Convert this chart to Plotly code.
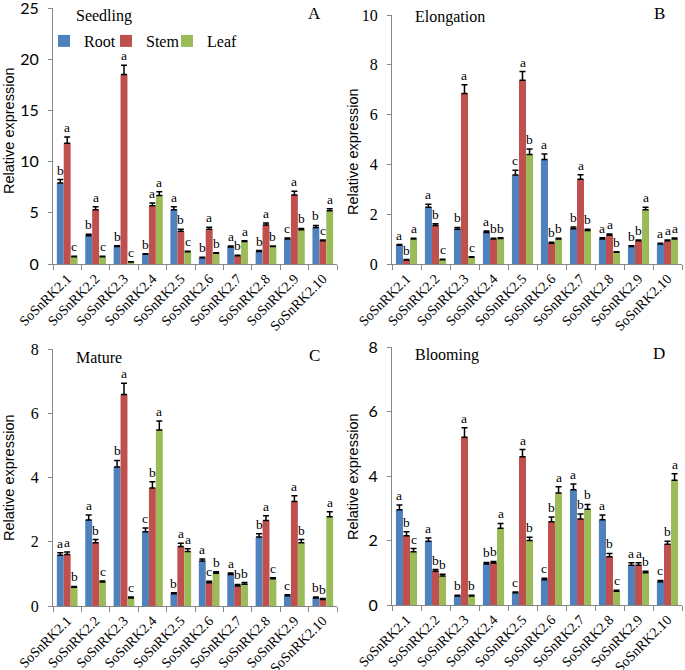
import plotly.graph_objects as go

genes = ["SoSnRK2.1", "SoSnRK2.2", "SoSnRK2.3", "SoSnRK2.4", "SoSnRK2.5",
         "SoSnRK2.6", "SoSnRK2.7", "SoSnRK2.8", "SoSnRK2.9", "SoSnRK2.10"]
tissues = ["Root", "Stem", "Leaf"]
stages = ["Seedling", "Elongation", "Mature", "Blooming"]
panel_letters = ["A", "B", "C", "D"]

# ---- Seedling (A)
seedling_root = [7.9, 2.75, 1.7, 0.95, 5.3, 0.6, 1.67, 1.23, 2.43, 3.57]
seedling_stem = [11.8, 5.3, 18.5, 5.7, 3.2, 3.4, 0.8, 3.8, 6.75, 2.27]
seedling_leaf = [0.7, 0.7, 0.2, 6.7, 1.2, 1.05, 2.2, 1.7, 3.35, 5.2]
seedling_root_err = [0.35, 0.15, 0.08, 0.06, 0.3, 0.05, 0.08, 0.08, 0.1, 0.2]
seedling_stem_err = [0.6, 0.3, 0.9, 0.25, 0.2, 0.2, 0.05, 0.2, 0.35, 0.08]
seedling_leaf_err = [0.05, 0.05, 0.03, 0.35, 0.05, 0.05, 0.06, 0.05, 0.12, 0.2]
seedling_root_sig = ["b", "b", "b", "b", "a", "b", "a", "b", "c", "b"]
seedling_stem_sig = ["a", "a", "a", "a", "b", "a", "b", "a", "a", "c"]
seedling_leaf_sig = ["c", "c", "c", "a", "c", "b", "a", "b", "b", "a"]

# ---- Elongation (B)
elongation_root = [0.75, 2.28, 1.4, 1.27, 3.57, 4.2, 1.42, 1.0, 0.7, 0.8]
elongation_stem = [0.16, 1.55, 6.85, 1.0, 7.38, 0.83, 3.4, 1.15, 0.93, 0.93]
elongation_leaf = [1.0, 0.17, 0.27, 1.02, 4.4, 1.0, 1.35, 0.47, 2.18, 1.0]
elongation_root_err = [0.03, 0.12, 0.07, 0.06, 0.2, 0.22, 0.07, 0.05, 0.03, 0.03]
elongation_stem_err = [0.02, 0.07, 0.35, 0.03, 0.35, 0.04, 0.18, 0.05, 0.03, 0.03]
elongation_leaf_err = [0.03, 0.02, 0.02, 0.03, 0.22, 0.03, 0.05, 0.02, 0.1, 0.04]
elongation_root_sig = ["a", "a", "b", "a", "c", "a", "b", "a", "b", "a"]
elongation_stem_sig = ["b", "b", "a", "b", "a", "b", "a", "a", "b", "a"]
elongation_leaf_sig = ["a", "c", "c", "b", "b", "b", "b", "b", "a", "a"]

# ---- Mature (C)
mature_root = [1.58, 2.68, 4.33, 2.31, 0.38, 1.4, 0.98, 2.15, 0.32, 0.25]
mature_stem = [1.6, 1.97, 6.58, 3.67, 1.85, 0.72, 0.62, 2.66, 3.25, 0.2]
mature_leaf = [0.58, 0.75, 0.25, 5.48, 1.7, 1.02, 0.68, 0.85, 1.97, 2.78]
mature_root_err = [0.08, 0.15, 0.2, 0.12, 0.03, 0.06, 0.05, 0.1, 0.03, 0.03]
mature_stem_err = [0.08, 0.1, 0.35, 0.2, 0.1, 0.05, 0.05, 0.15, 0.18, 0.03]
mature_leaf_err = [0.03, 0.03, 0.03, 0.28, 0.08, 0.05, 0.05, 0.03, 0.1, 0.15]
mature_root_sig = ["a", "a", "b", "c", "b", "a", "a", "b", "c", "b"]
mature_stem_sig = ["a", "b", "a", "b", "a", "c", "b", "a", "a", "b"]
mature_leaf_sig = ["b", "c", "c", "a", "a", "b", "b", "c", "b", "a"]

# ---- Blooming (D)
blooming_root = [2.95, 1.98, 0.28, 1.27, 0.38, 0.78, 3.57, 2.64, 1.23, 0.72]
blooming_stem = [2.15, 1.05, 5.2, 1.3, 4.6, 2.58, 2.67, 1.5, 1.23, 1.88]
blooming_leaf = [1.65, 0.9, 0.28, 2.38, 2.0, 3.47, 2.97, 0.43, 1.0, 3.87]
blooming_root_err = [0.15, 0.1, 0.02, 0.05, 0.02, 0.05, 0.18, 0.15, 0.08, 0.04]
blooming_stem_err = [0.12, 0.05, 0.3, 0.05, 0.22, 0.15, 0.15, 0.1, 0.08, 0.1]
blooming_leaf_err = [0.1, 0.05, 0.02, 0.15, 0.1, 0.2, 0.15, 0.03, 0.05, 0.2]
blooming_root_sig = ["a", "a", "b", "b", "c", "c", "a", "a", "a", "c"]
blooming_stem_sig = ["b", "b", "a", "b", "a", "b", "b", "b", "a", "b"]
blooming_leaf_sig = ["c", "b", "b", "a", "b", "a", "b", "c", "b", "a"]

y_max = [25, 10, 8, 8]
y_dtick = [5, 2, 2, 2]

colors = ["#4F81BD", "#C0504D", "#9BBB59"]
SERIF = "Liberation Serif, Times New Roman, serif"
SANS = "Liberation Sans, Arial, sans-serif"
CAL = "Lato, Carlito, sans-serif"
tick_fonts = [CAL, SERIF, SERIF, CAL]
AXIS_GRAY = "#868686"

panels = [
    ([seedling_root, seedling_stem, seedling_leaf],
     [seedling_root_err, seedling_stem_err, seedling_leaf_err],
     [seedling_root_sig, seedling_stem_sig, seedling_leaf_sig]),
    ([elongation_root, elongation_stem, elongation_leaf],
     [elongation_root_err, elongation_stem_err, elongation_leaf_err],
     [elongation_root_sig, elongation_stem_sig, elongation_leaf_sig]),
    ([mature_root, mature_stem, mature_leaf],
     [mature_root_err, mature_stem_err, mature_leaf_err],
     [mature_root_sig, mature_stem_sig, mature_leaf_sig]),
    ([blooming_root, blooming_stem, blooming_leaf],
     [blooming_root_err, blooming_stem_err, blooming_leaf_err],
     [blooming_root_sig, blooming_stem_sig, blooming_leaf_sig]),
]

W, H = 685, 670
# plot-area pixel boxes (left, right, top, bottom)
boxes = [(53, 337, 8, 264), (392, 682, 15, 264), (53, 337, 349, 606), (392, 682, 347, 605)]
legend_names = ["legend", "legend2", "legend3"]
legend_left_px = [44, 106, 167]

BARGAP = 0.27
bw = (1 - BARGAP) / 3

fig = go.Figure()
annotations = []
layout = {}
for p, (vals, errs, sigs) in enumerate(panels):
    sfx = "" if p == 0 else str(p + 1)
    xa, ya = "x" + sfx, "y" + sfx
    for k in range(3):
        fig.add_trace(go.Bar(
            x=genes, y=vals[k], name=tissues[k], xaxis=xa, yaxis=ya,
            marker=dict(color=colors[k], line=dict(width=0)),
            showlegend=(p == 0), legend=legend_names[k],
            error_y=dict(type="data", symmetric=False, array=errs[k],
                         arrayminus=[0] * len(errs[k]), color="black",
                         thickness=1.5, width=3),
        ))
        for i in range(len(genes)):
            annotations.append(dict(
                x=i + (k - 1) * bw, y=vals[k][i] + errs[k][i], xref=xa, yref=ya,
                text=sigs[k][i], showarrow=False, yanchor="bottom", yshift=0,
                font=dict(family=SERIF, size=13.5, color="black")))
    l, r, t, b = boxes[p]
    layout["xaxis" + sfx] = dict(
        domain=[l / W, r / W], anchor=ya, type="category", automargin=False,
        showline=True, linecolor=AXIS_GRAY, linewidth=1,
        ticks="outside", tickson="boundaries", ticklen=5, tickcolor=AXIS_GRAY,
        tickangle=-45, tickfont=dict(family=SERIF, size=14, color="black"),
        showgrid=False, zeroline=False)
    layout["yaxis" + sfx] = dict(
        domain=[1 - b / H, 1 - t / H], anchor=xa, range=[0, y_max[p]],
        dtick=y_dtick[p], showline=True, linecolor=AXIS_GRAY, linewidth=1,
        automargin=False, ticklabeloverflow="allow",
        ticks="outside", ticklen=4, tickcolor=AXIS_GRAY,
        tickfont=dict(family=tick_fonts[p], size=16, color="black"),
        ticklabelstandoff=6, showgrid=False, zeroline=False)
    # stage name and panel letter
    annotations.append(dict(x=(l + 21) / W, y=1 - ((t + 8) if p != 1 else (t + 2)) / H,
                            xref="paper", yref="paper", xanchor="left", yanchor="middle",
                            text=stages[p], showarrow=False,
                            font=dict(family=SERIF, size=16, color="black")))
    annotations.append(dict(x=(r - 23) / W, y=1 - (t + 6 if p != 1 else t - 2) / H,
                            xref="paper", yref="paper", xanchor="center", yanchor="middle",
                            text=panel_letters[p], showarrow=False,
                            font=dict(family=SERIF, size=17, color="black")))

# y-axis titles
for (xc, yc) in [(9, 131), (353, 151), (9, 478), (353, 476)]:
    annotations.append(dict(x=xc / W, y=1 - yc / H, xref="paper", yref="paper",
                            text="Relative expression", textangle=-90, showarrow=False,
                            xanchor="center", yanchor="middle",
                            font=dict(family=SANS, size=14.5, color="black")))

for k in range(3):
    layout[legend_names[k]] = dict(
        x=legend_left_px[k] / W, y=1 - 41 / H, xanchor="left", yanchor="middle",
        orientation="h", font=dict(family=SERIF, size=16, color="black"),
        bgcolor="rgba(0,0,0,0)", itemwidth=30)

fig.update_layout(
    width=W, height=H, margin=dict(l=0, r=0, t=0, b=0, autoexpand=False),
    plot_bgcolor="white", paper_bgcolor="white",
    barmode="group", bargap=BARGAP, bargroupgap=0,
    annotations=annotations,
    **layout,
)

fig.write_html("out.html", config={"displayModeBar": False},
               post_script="document.body.style.margin='0';document.body.style.overflow='hidden';")
